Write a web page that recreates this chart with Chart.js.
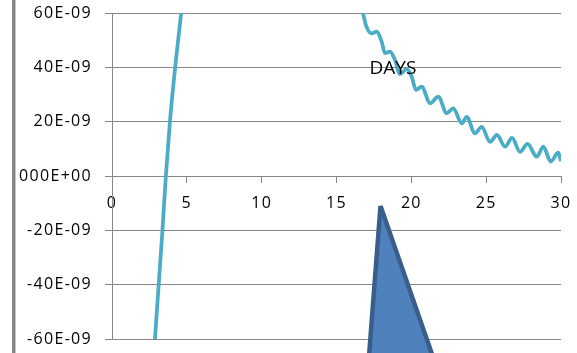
<!DOCTYPE html>
<html>
<head>
<meta charset="utf-8">
<script src="https://cdn.jsdelivr.net/npm/chart.js@4/dist/chart.umd.min.js"></script>
<style>
  html, body { margin: 0; padding: 0; background: #ffffff; }
  canvas { display: block; }
</style>
</head>
<body>
<canvas id="c" width="577" height="353"></canvas>
<script>
// Tick positions on each axis
const xTicks = [0, 5, 10, 15, 20, 25, 30];
const yTicks = [-60, -40, -20, 0, 20, 40, 60];   // in units of 1E-09

// Measured curve: day vs. value (units of 1E-09); null splits the two visible branches
const days = [
  2.87, 3.12, 3.37, 3.60, 3.87, 4.22, 4.62, 4.75,
  10.0,
  16.40, 16.76, 17.00, 17.35, 17.69, 18.02, 18.24, 18.57, 18.91, 19.24,
  19.69, 20.02, 20.31, 20.69, 21.25, 21.80, 22.36, 22.80, 23.37, 23.70,
  24.25, 24.70, 25.26, 25.72, 26.26, 26.73, 27.26, 27.76, 28.38, 28.82,
  29.31, 29.82, 30.00, 30.20
];
const values = [
  -60.0, -40.0, -20.0, 0.0, 20.0, 40.0, 60.0, 67.0,
  null,
  66.0, 60.0, 55.0, 52.5, 53.1, 49.4, 45.2, 45.8, 42.7, 37.5,
  39.4, 36.6, 31.7, 32.9, 26.8, 29.2, 23.1, 24.9, 19.4, 21.8,
  15.7, 18.1, 12.6, 15.1, 10.8, 14.0, 8.9, 11.8, 7.1, 10.8,
  5.3, 8.6, 5.5, 3.5
];

// Pointer triangle (closed outline)
const pointerX = [17.94, 21.66, 17.12, 17.94];
const pointerY = [-11.0, -70.0, -70.0, -11.0];

// Free text label placed in data space
const noteText = 'DAYS';
const noteX = 18.77;
const noteY = 37.5;

const GRID = '#878787';
const TICK_FONT = { family: "'Open Sans', sans-serif", size: 16 };

const curvePoints = days.map((d, i) => ({ x: d, y: values[i] }));
const pointerPoints = pointerX.map((d, i) => ({ x: d, y: pointerY[i] }));

const framePlugin = {
  id: 'frame',
  beforeDraw(chart) {
    const ctx = chart.ctx;
    ctx.save();
    ctx.fillStyle = '#ffffff';
    ctx.fillRect(0, 0, chart.width, chart.height);
    ctx.fillStyle = '#878787';
    ctx.fillRect(12, 0, 3.5, chart.height);
    ctx.restore();
    ctx.letterSpacing = '1.3px';
  },
  // the pointer runs past the plot floor down to the canvas edge
  beforeDatasetsDraw(chart) {
    this._bottom = chart.chartArea.bottom;
    chart.chartArea.bottom = chart.height;
  },
  afterDatasetsDraw(chart) {
    chart.chartArea.bottom = this._bottom;
    const ctx = chart.ctx;
    const xs = chart.scales.x, ys = chart.scales.y;
    ctx.save();
    ctx.letterSpacing = '0px';
    ctx.font = "19px 'Open Sans', sans-serif";
    ctx.fillStyle = '#000000';
    ctx.textAlign = 'center';
    ctx.textBaseline = 'alphabetic';
    ctx.fillText(noteText, xs.getPixelForValue(noteX), ys.getPixelForValue(noteY));
    ctx.restore();
  }
};

const noOverflow = s => {
  s.paddingTop = 0; s.paddingBottom = 0; s.paddingLeft = 0; s.paddingRight = 0;
};

new Chart(document.getElementById('c'), {
  type: 'scatter',
  data: {
    datasets: [
      {
        data: pointerPoints,
        showLine: true,
        tension: 0,
        borderColor: '#3A5E8C',
        backgroundColor: '#4F81BD',
        borderWidth: 4.5,
        borderJoinStyle: 'round',
        fill: 'shape',
        pointRadius: 0,
        clip: false,
        order: 1
      },
      {
        data: curvePoints,
        showLine: true,
        spanGaps: false,
        cubicInterpolationMode: 'monotone',
        borderColor: '#4BACC6',
        borderWidth: 3.75,
        pointRadius: 0,
        fill: false,
        clip: 0,
        order: 2
      }
    ]
  },
  options: {
    responsive: false,
    animation: false,
    devicePixelRatio: 1,
    layout: { padding: { left: 0, top: 13, right: 16, bottom: 14 } },
    plugins: { legend: { display: false }, tooltip: { enabled: false } },
    scales: {
      x: {
        type: 'linear',
        min: 0,
        max: 30,
        position: { y: 0 },
        afterBuildTicks: s => { s.ticks = xTicks.map(v => ({ value: v })); },
        afterFit: noOverflow,
        grid: { drawOnChartArea: false, drawTicks: true, tickLength: 6, color: GRID },
        border: { color: GRID, width: 1 },
        ticks: { font: TICK_FONT, color: '#000000', padding: 12, maxRotation: 0 }
      },
      y: {
        type: 'linear',
        min: -60,
        max: 60,
        afterBuildTicks: s => { s.ticks = yTicks.map(v => ({ value: v })); },
        afterFit: s => { noOverflow(s); s.width = 112; },
        grid: { color: GRID, tickLength: 7 },
        border: { color: GRID, width: 1 },
        ticks: {
          font: TICK_FONT,
          color: '#000000',
          padding: 13,
          callback: v => (v === 0 ? '000E+00' : v + 'E-09')
        }
      }
    }
  },
  plugins: [framePlugin]
});
</script>
</body>
</html>
